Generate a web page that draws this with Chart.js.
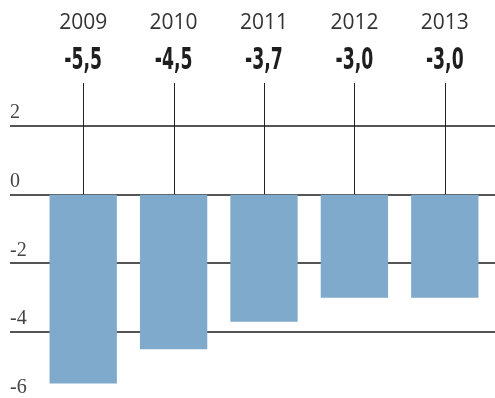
<!DOCTYPE html>
<html><head><meta charset="utf-8">
<script src="https://cdn.jsdelivr.net/npm/chart.js@4/dist/chart.umd.min.js"></script>
<style>html,body{margin:0;padding:0;background:#fff}#wrap{width:495px;height:398px;position:relative}</style>
</head><body><div id="wrap"><canvas id="c"></canvas></div>
<script>
const years = ['2009', '2010', '2011', '2012', '2013'];
const deficit = [-5.5, -4.5, -3.7, -3.0, -3.0];
const valueLabels = ['-5,5', '-4,5', '-3,7', '-3,0', '-3,0'];
const yTicks = [2, 0, -2, -4, -6];

const deco = {
  id: 'deco',
  beforeDatasetsDraw(chart) {
    const {ctx, scales: {x, y}} = chart;
    ctx.save();
    ctx.strokeStyle = '#555';
    ctx.lineWidth = 2;
    yTicks.forEach(v => {
      const py = Math.round(y.getPixelForValue(v));
      ctx.beginPath(); ctx.moveTo(10, py); ctx.lineTo(chart.width, py); ctx.stroke();
    });
    ctx.strokeStyle = '#222';
    ctx.lineWidth = 1;
    const y0 = y.getPixelForValue(0);
    years.forEach((_, i) => {
      const px = Math.round(x.getPixelForValue(i)) + 0.5;
      ctx.beginPath(); ctx.moveTo(px, chart.chartArea.top); ctx.lineTo(px, y0); ctx.stroke();
    });
    ctx.restore();
  },
  afterDraw(chart) {
    const {ctx, scales: {x}} = chart;
    ctx.save();
    ctx.fillStyle = '#1e1e1e';
    ctx.font = "bold 30px 'DejaVu Sans Condensed', 'DejaVu Sans', sans-serif";
    ctx.textAlign = 'center';
    ctx.textBaseline = 'middle';
    const sx = 0.64;
    valueLabels.forEach((t, i) => {
      ctx.save();
      ctx.translate(x.getPixelForValue(i), 61);
      ctx.scale(sx, 1);
      ctx.fillText(t, 0, 0);
      ctx.restore();
    });
    ctx.restore();
  }
};

new Chart(document.getElementById('c'), {
  type: 'bar',
  data: {
    labels: years,
    datasets: [{
      data: deficit,
      backgroundColor: '#7faacb',
      borderWidth: 0,
      categoryPercentage: 1,
      barPercentage: 0.745
    }]
  },
  options: {
    responsive: true,
    maintainAspectRatio: false,
    animation: false,
    layout: {padding: {left: 10, right: 5, top: 0, bottom: 0}},
    plugins: {legend: {display: false}, tooltip: {enabled: false}},
    scales: {
      x: {
        position: 'top',
        grid: {display: false, drawTicks: false},
        border: {display: false},
        ticks: {
          font: {family: "'Open Sans'", size: 21},
          color: '#333',
          padding: 47
        },
        afterFit(s) { s.height = 83; s.paddingLeft = 0; s.paddingRight = 0; }
      },
      y: {
        position: 'left',
        min: -5.92,
        max: 3.25,
        grid: {display: false, drawTicks: false},
        border: {display: false},
        afterBuildTicks(s) { s.ticks = yTicks.map(v => ({value: v})); },
        afterFit(s) { s.width = 28; s.paddingTop = 0; s.paddingBottom = 0; },
        ticks: {
          autoSkip: false,
          crossAlign: 'far',
          labelOffset: -13,
          padding: 0,
          font: {family: "'Liberation Serif'", size: 20},
          color: '#444',
          callback: v => String(v)
        }
      }
    }
  },
  plugins: [deco]
});
</script>
</body></html>
